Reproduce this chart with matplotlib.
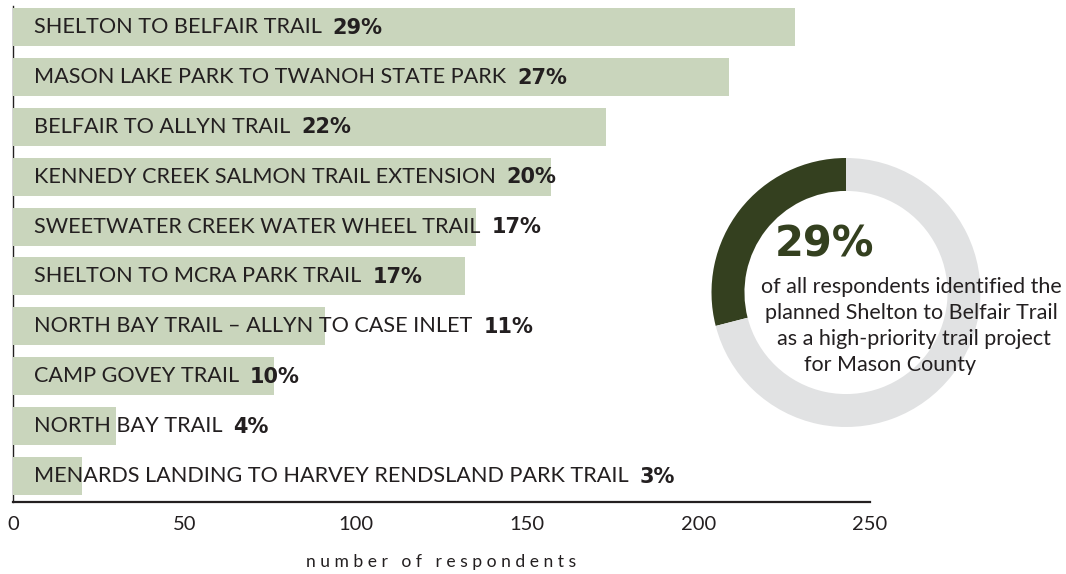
import numpy as np
import matplotlib.pyplot as plt

# --- data ---
trails = [
    "SHELTON TO BELFAIR TRAIL",
    "MASON LAKE PARK TO TWANOH STATE PARK",
    "BELFAIR TO ALLYN TRAIL",
    "KENNEDY CREEK SALMON TRAIL EXTENSION",
    "SWEETWATER CREEK WATER WHEEL TRAIL",
    "SHELTON TO MCRA PARK TRAIL",
    "NORTH BAY TRAIL \u2013 ALLYN TO CASE INLET",
    "CAMP GOVEY TRAIL",
    "NORTH BAY TRAIL",
    "MENARDS LANDING TO HARVEY RENDSLAND PARK TRAIL",
]
respondents = [228, 209, 173, 157, 135, 132, 91, 76, 30, 20]
pct_labels = ["29%", "27%", "22%", "20%", "17%", "17%", "11%", "10%", "4%", "3%"]
x_ticks = [0, 50, 100, 150, 200, 250]

donut_share = [29, 71]
donut_big = "29%"
donut_lines = [
    "of all respondents identified the",
    "planned Shelton to Belfair Trail",
    "as a high-priority trail project",
    "for Mason County",
]

BAR = "#c9d5bc"
DARK = "#34401f"
GREY = "#e1e2e3"
INK = "#231f20"

plt.rcParams["font.family"] = ["Lato", "DejaVu Sans"]

W, H = 1066, 574
fig = plt.figure(figsize=(W / 100, H / 100), dpi=100)

# --- bar chart ---
ax = fig.add_axes([13 / W, 1 - 502 / H, (870 - 13) / W, (502 - 6) / H])
y = np.arange(len(trails))
ax.barh(y, respondents, height=0.76, color=BAR, zorder=3)
ax.set_xlim(0, 250)
ax.set_ylim(len(trails) - 1 + 0.52, -0.42)

for i, (name, pct) in enumerate(zip(trails, pct_labels)):
    t = ax.annotate(name, xy=(0, i), xytext=(15, 0), textcoords="offset points",
                    va="center", ha="left", fontsize=15.6, color=INK, zorder=4)
    ax.annotate(pct, xy=(1, 0.5), xycoords=t, xytext=(8, -0.5), textcoords="offset points",
                va="center", ha="left", fontsize=15, fontweight="bold",
                family="DejaVu Sans", color=INK, zorder=4)

ax.set_xticks(x_ticks)
ax.set_xticklabels([str(v) for v in x_ticks], fontsize=14.5, color=INK)
ax.tick_params(axis="x", length=0, pad=10)
ax.set_yticks([])
for s in ["top", "right"]:
    ax.spines[s].set_visible(False)
ax.spines["left"].set_color(INK)
ax.spines["left"].set_linewidth(1.0)
ax.spines["bottom"].set_color(INK)
ax.spines["bottom"].set_linewidth(1.6)
ax.set_xlabel("n u m b e r   o f   r e s p o n d e n t s", fontsize=12.6, color=INK)
ax.xaxis.set_label_coords(428 / (870 - 13), -(554 - 502) / (502 - 6))

# --- donut ---
cx, cy, r = 846, 292.5, 134.5
dax = fig.add_axes([(cx - r) / W, 1 - (cy + r) / H, 2 * r / W, 2 * r / H])
dax.pie(donut_share, colors=[DARK, GREY], startangle=90, counterclock=True,
        radius=1, wedgeprops=dict(width=0.245, linewidth=0))
dax.set_xlim(-1, 1)
dax.set_ylim(-1, 1)
dax.set_aspect("equal")
dax.axis("off")

fig.text(824 / W, 1 - 244 / H, donut_big, ha="center", va="center",
         fontsize=30, fontweight="bold", family="DejaVu Sans", color=DARK)
line_x = [911, 911, 914, 890]
line_y = [287, 313, 339, 365]
for txt, lx, ly in zip(donut_lines, line_x, line_y):
    fig.text(lx / W, 1 - ly / H, txt, ha="center", va="center", fontsize=15.5, color=INK)

fig.savefig("out.png", dpi=100)
